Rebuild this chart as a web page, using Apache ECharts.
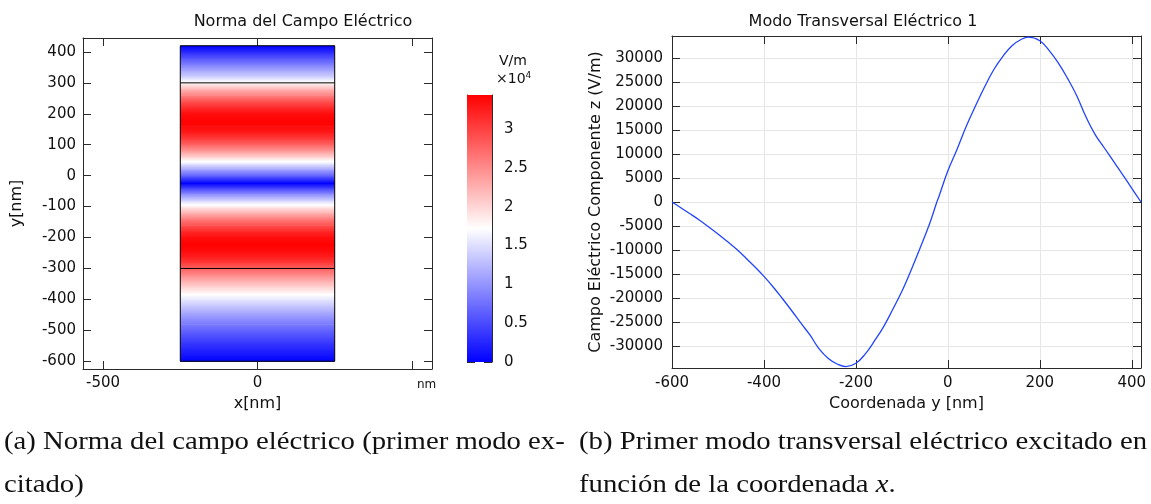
<!DOCTYPE html>
<html><head><meta charset="utf-8">
<script src="https://cdn.jsdelivr.net/npm/echarts@6/dist/echarts.min.js"></script>
<style>html,body{margin:0;padding:0;background:#fff}#c{width:1151px;height:504px}</style>
</head><body><div id="c"></div>
<script>
// ---- data ----
const coordY = [-600,-580,-560,-540,-520,-500,-480,-460,-440,-420,-400,-380,-360,-340,-320,-300,-280,-260,-240,
  -222,-200,-180,-160,-140,-120,-100,-80,-60,-40,
  -24,-20,0,20,40,60,80,100,120,140,160,
  175,200,220,240,260,280,300,320,340,360,380,400,420];
const ezValues = [0,-1250,-2500,-3800,-5200,-6650,-8200,-9800,-11600,-13500,-15500,-17700,-20100,-22600,-25200,-27700,-30600,-32600,-33800,
  -34300,-33600,-31700,-29000,-26000,-22400,-18600,-14200,-9500,-4600,
  0,1000,6500,11000,15800,20000,24000,27600,30400,32600,33900,
  34350,33600,31600,29000,25800,22200,17800,14100,11300,8500,5700,2850,0];
const fieldTicksX = [-500, 0, 500];
const fieldLabelsX = [-500, 0];
const fieldTicksY = [-600,-500,-400,-300,-200,-100,0,100,200,300,400];
const lineTicksX = [-600,-400,-200,0,200,400];
const lineTicksY = [-30000,-25000,-20000,-15000,-10000,-5000,0,5000,10000,15000,20000,25000,30000];
const colorbarTicks = [0,0.5,1,1.5,2,2.5,3];
const domainX = [-250, 250];
const domainY = [-600, 420];
const interfacesY = [-300, 300];
const colorMax = 34400;           // top of colour bar (V/m)
const colorStops = ['#0000ff', '#ffffff', '#ff0000'];
const titles = ['Norma del Campo Eléctrico', 'Modo Transversal Eléctrico 1'];
const captionsA = ['(a) Norma del campo eléctrico (primer modo ex-', 'citado)'];
const captionsB = ['(b) Primer modo transversal eléctrico excitado en', 'función de la coordenada '];

// ---- derived ----
const FONT = 'DejaVu Sans';
const AX = '#2a2a2a';
function cmap(v) { return echarts.color.lerp(Math.max(0, Math.min(1, v / colorMax)), colorStops); }
const fieldSegments = [];
for (let i = 0; i < coordY.length - 1; i++) {
  fieldSegments.push([coordY[i], coordY[i + 1], Math.abs(ezValues[i]), Math.abs(ezValues[i + 1])]);
}
const lineData = coordY.map((y, i) => [y, ezValues[i]]);
const outline = [[domainX[0], domainY[0]], [domainX[1], domainY[0]], [domainX[1], domainY[1]], [domainX[0], domainY[1]], [domainX[0], domainY[0]]];

function gradStops(top, bot) {
  const s = [{offset: 0, color: cmap(top)}];
  const mid = colorMax / 2;
  if ((top - mid) * (bot - mid) < 0) {
    const f = (top - mid) / (top - bot);
    s.push({offset: f, color: cmap(mid)});
  }
  s.push({offset: 1, color: cmap(bot)});
  return s;
}

const axisLineStyle = {show: true, onZero: false, lineStyle: {color: AX, width: 1}};
const tickIn = (vals) => ({show: true, inside: true, length: 8, customValues: vals, lineStyle: {color: AX, width: 1}});
const lab = (vals, margin) => ({show: true, customValues: vals, margin: margin, fontFamily: FONT, fontSize: 15, color: '#111',
  formatter: v => String(v)});
const nameStyle = {fontFamily: FONT, fontSize: 16, color: '#111'};

const chart = echarts.init(document.getElementById('c'), null, {renderer: 'canvas'});
chart.setOption({
  animation: false,
  backgroundColor: '#fff',
  title: [
    {text: titles[0], left: 298, top: 9, textAlign: 'center', textStyle: {fontFamily: FONT, fontSize: 16, fontWeight: 'normal', color: '#111'}},
    {text: titles[1], left: 858, top: 9, textAlign: 'center', textStyle: {fontFamily: FONT, fontSize: 16, fontWeight: 'normal', color: '#111'}}
  ],
  grid: [
    {left: 83, top: 38, width: 349, height: 331},
    {left: 467, top: 95, width: 25, height: 267},
    {left: 672, top: 36, width: 469, height: 332}
  ],
  xAxis: [
    {type: 'value', gridIndex: 0, min: -565, max: 565, position: 'bottom',
     axisLine: axisLineStyle, axisTick: tickIn(fieldTicksX), axisLabel: lab(fieldLabelsX, 7), splitLine: {show: false},
     name: 'x[nm]', nameLocation: 'middle', nameGap: 21, nameTextStyle: nameStyle},
    {type: 'value', gridIndex: 0, min: -565, max: 565, position: 'top',
     axisLine: axisLineStyle, axisTick: tickIn(fieldTicksX), axisLabel: {show: false}, splitLine: {show: false}},
    {type: 'value', gridIndex: 1, min: 0, max: 1, show: false},
    {type: 'value', gridIndex: 2, min: -600, max: 420, position: 'bottom',
     axisLine: axisLineStyle, axisTick: tickIn(lineTicksX), axisLabel: lab(lineTicksX, 8),
     splitLine: {show: true, lineStyle: {color: '#e6e6e6', width: 1}},
     name: 'Coordenada y [nm]', nameLocation: 'middle', nameGap: 21, nameTextStyle: nameStyle},
    {type: 'value', gridIndex: 2, min: -600, max: 420, position: 'top',
     axisLine: axisLineStyle, axisTick: tickIn(lineTicksX), axisLabel: {show: false}, splitLine: {show: false}}
  ],
  yAxis: [
    {type: 'value', gridIndex: 0, min: -625, max: 445, position: 'left',
     axisLine: axisLineStyle, axisTick: tickIn(fieldTicksY), axisLabel: lab(fieldTicksY, 7), splitLine: {show: false},
     name: 'y[nm]', nameLocation: 'middle', nameGap: 58, nameTextStyle: nameStyle},
    {type: 'value', gridIndex: 0, min: -625, max: 445, position: 'right',
     axisLine: axisLineStyle, axisTick: tickIn(fieldTicksY), axisLabel: {show: false}, splitLine: {show: false}},
    {type: 'value', gridIndex: 1, min: 0, max: colorMax / 1e4, position: 'right',
     axisLine: axisLineStyle, axisTick: tickIn(colorbarTicks), axisLabel: lab(colorbarTicks, 12), splitLine: {show: false}},
    {type: 'value', gridIndex: 1, min: 0, max: colorMax / 1e4, position: 'left',
     axisLine: axisLineStyle, axisTick: tickIn(colorbarTicks), axisLabel: {show: false}, splitLine: {show: false}},
    {type: 'value', gridIndex: 2, min: -34580, max: 34580, position: 'left',
     axisLine: axisLineStyle, axisTick: tickIn(lineTicksY), axisLabel: lab(lineTicksY, 9),
     splitLine: {show: true, lineStyle: {color: '#e6e6e6', width: 1}},
     name: 'Campo Eléctrico Componente z (V/m)', nameLocation: 'middle', nameGap: 68, nameTextStyle: nameStyle},
    {type: 'value', gridIndex: 2, min: -34580, max: 34580, position: 'right',
     axisLine: axisLineStyle, axisTick: tickIn(lineTicksY), axisLabel: {show: false}, splitLine: {show: false}}
  ],
  series: [
    {type: 'custom', xAxisIndex: 0, yAxisIndex: 0, data: fieldSegments, z: 1,
     encode: {x: -1, y: [0, 1]},
     renderItem: function (params, api) {
       const y0 = api.value(0), y1 = api.value(1), a = api.value(2), b = api.value(3);
       const pTop = api.coord([domainX[0], y1]);
       const pBot = api.coord([domainX[1], y0]);
       return {type: 'rect', shape: {x: pTop[0], y: pTop[1], width: pBot[0] - pTop[0], height: pBot[1] - pTop[1] + 0.6},
         style: {fill: new echarts.graphic.LinearGradient(0, 0, 0, 1, gradStops(b, a))}};
     }},
    {type: 'line', xAxisIndex: 0, yAxisIndex: 0, data: outline, symbol: 'none', z: 3,
     lineStyle: {color: '#000', width: 1}},
    ...interfacesY.map(v => ({type: 'line', xAxisIndex: 0, yAxisIndex: 0, data: [[domainX[0], v], [domainX[1], v]],
      symbol: 'none', z: 3, lineStyle: {color: '#000', width: 1}})),
    {type: 'custom', xAxisIndex: 2, yAxisIndex: 2, data: [[0, colorMax / 1e4]], z: 1,
     renderItem: function (params, api) {
       const p0 = api.coord([0, api.value(1)]);
       const p1 = api.coord([1, 0]);
       return {type: 'rect', shape: {x: p0[0], y: p0[1], width: p1[0] - p0[0], height: p1[1] - p0[1]},
         style: {fill: new echarts.graphic.LinearGradient(0, 0, 0, 1, [
           {offset: 0, color: colorStops[2]}, {offset: 0.5, color: colorStops[1]}, {offset: 1, color: colorStops[0]}])}};
     }},
    {type: 'line', xAxisIndex: 3, yAxisIndex: 4, data: lineData, symbol: 'none', smooth: 0.4, z: 3,
     lineStyle: {color: '#2244ff', width: 1.3}}
  ],
  graphic: [
    {type: 'text', x: 417, y: 379, style: {text: 'nm', font: '12px "DejaVu Sans"', fill: '#111'}},
    {type: 'text', x: 499, y: 54, style: {text: 'V/m', font: '14px "DejaVu Sans"', fill: '#111'}},
    {type: 'text', x: 496, y: 71, style: {text: '×10{s|4}', font: '14px "DejaVu Sans"', fill: '#111',
      rich: {s: {fontSize: 9, fontFamily: FONT, verticalAlign: 'top', padding: [0, 0, 8, 0]}}}},
    {type: 'text', x: 4, y: 429, scaleX: 1.105, style: {text: captionsA[0], font: '26px "Liberation Serif"', fill: '#111'}},
    {type: 'text', x: 4, y: 472, scaleX: 1.105, style: {text: captionsA[1], font: '26px "Liberation Serif"', fill: '#111'}},
    {type: 'text', x: 579, y: 429, scaleX: 1.105, style: {text: captionsB[0], font: '26px "Liberation Serif"', fill: '#111'}},
    {type: 'text', x: 579, y: 472, scaleX: 1.105, style: {text: captionsB[1] + '{i|x}.', font: '26px "Liberation Serif"', fill: '#111',
      rich: {i: {fontStyle: 'italic', fontFamily: 'Liberation Serif', fontSize: 26}}}}
  ]
});
</script></body></html>
